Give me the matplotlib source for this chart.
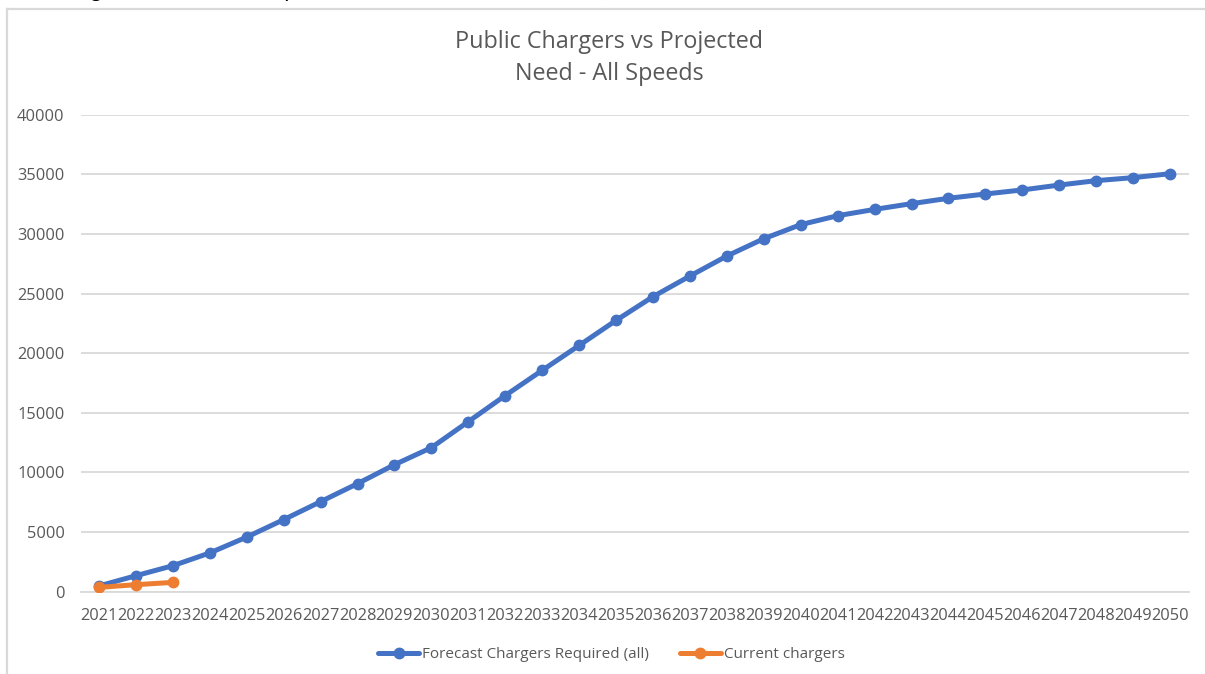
import matplotlib
matplotlib.use("Agg")
import matplotlib.pyplot as plt
from matplotlib.lines import Line2D

plt.rcParams['font.family'] = ['Open Sans', 'DejaVu Sans']

# data
years = [str(y) for y in range(2021, 2051)]
forecast = [480, 1340, 2180, 3250, 4580, 6040, 7550, 9060, 10650, 12080,
            14260, 16450, 18560, 20650, 22750, 24740, 26470, 28150, 29600, 30780,
            31530, 32060, 32540, 32990, 33350, 33690, 34100, 34470, 34720, 35050]
current_years = years[:3]
current = [360, 590, 780]
y_ticks = [0, 5000, 10000, 15000, 20000, 25000, 30000, 35000, 40000]

blue = '#4472C4'
orange = '#ED7D31'
grey_txt = '#595959'

W, H = 1205, 674
fig = plt.figure(figsize=(W / 100, H / 100), dpi=100)

# chart frame (left + top edge only visible)
fig.add_artist(Line2D([7.5 / W, 7.5 / W], [0, 1 - 8.5 / H], transform=fig.transFigure,
                      color='#D9D9D9', lw=1.6))
fig.add_artist(Line2D([7.5 / W, 1], [1 - 8.5 / H, 1 - 8.5 / H], transform=fig.transFigure,
                      color='#D9D9D9', lw=1.6))

# clipped text line from the surrounding document (only its lower edge shows)
fig.text(72 / W, 1 + 3 / H, "Figures for the county between 2021 and 2050 is 40,000 sockets",
         fontsize=16.4, color='black', va='baseline', ha='left', family=['Lato', 'DejaVu Sans'])

left, right = 80.5, 1188.5
top, bottom = 114.7, 591.7
ax = fig.add_axes([left / W, 1 - bottom / H, (right - left) / W, (bottom - top) / H])

x = list(range(len(years)))
ax.plot(x, forecast, color=blue, lw=3.6, marker='o', ms=7.5, solid_capstyle='round',
        label='Forecast Chargers Required (all)', zorder=3)
ax.plot(x[:len(current)], current, color=orange, lw=3.6, marker='o', ms=7.5,
        solid_capstyle='round', label='Current chargers', zorder=4)

ax.set_xlim(-0.5, len(years) - 0.5)
ax.set_ylim(0, 40000)
ax.set_yticks(y_ticks)
ax.set_yticklabels([str(v) for v in y_ticks])
ax.set_xticks(x)
ax.set_xticklabels(years)
ax.grid(axis='y', color='#D9D9D9', lw=1.3)
ax.set_axisbelow(True)
for s in ['top', 'right', 'left']:
    ax.spines[s].set_visible(False)
ax.spines['bottom'].set_color('#D9D9D9')
ax.spines['bottom'].set_linewidth(1.3)
ax.tick_params(axis='both', length=0, labelsize=11.8, labelcolor=grey_txt)
ax.tick_params(axis='y', pad=11.5)
ax.tick_params(axis='x', pad=11.5)

fig.text(609 / W, 1 - 58 / H, "Public Chargers vs Projected\nNeed - All Speeds",
         ha='center', va='center', fontsize=16.8, color=grey_txt, linespacing=1.47)

fig.legend(loc='center', bbox_to_anchor=(611.5 / W, 1 - 654.5 / H), ncol=2, frameon=False,
           fontsize=11, labelcolor=grey_txt, handlelength=2.7, handletextpad=0.2,
           columnspacing=2.0)

fig.savefig('out.png', dpi=100)
